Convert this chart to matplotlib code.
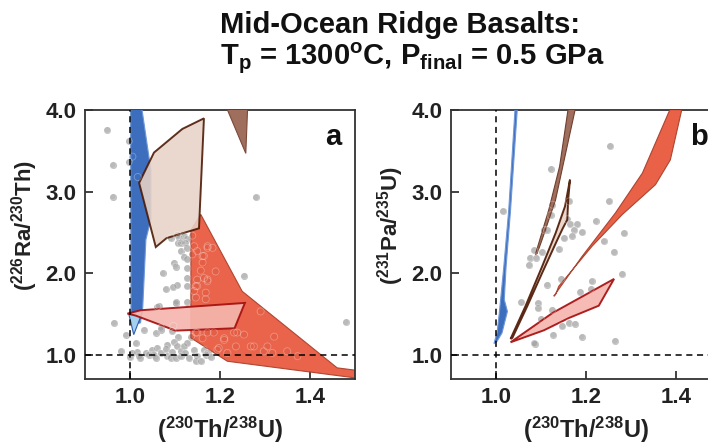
import matplotlib
matplotlib.use('Agg')
import matplotlib.pyplot as plt
from matplotlib.patches import Polygon

plt.rcParams['font.family'] = ['Liberation Sans', 'DejaVu Sans']
plt.rcParams['font.weight'] = 'bold'
plt.rcParams['mathtext.fontset'] = 'custom'
plt.rcParams['mathtext.rm'] = 'Liberation Sans:bold'
plt.rcParams['mathtext.bf'] = 'Liberation Sans:bold'
plt.rcParams['mathtext.it'] = 'Liberation Sans:bold'

# ---- panel a: (226Ra/230Th) vs (230Th/238U) ----
a_blue = [(1.002, 4.02), (1.027, 4.02), (1.047, 3.27), (1.047, 2.66), (1.036, 2.41),
          (1.029, 1.58), (1.024, 1.39), (1.011, 1.37), (1.003, 1.50)]
a_lightblue = [(0.998, 1.50), (1.029, 1.53), (1.009, 1.245)]
a_pink = [(0.995, 1.503), (1.024, 1.544), (1.256, 1.634), (1.233, 1.323),
          (1.102, 1.294), (1.013, 1.479)]
a_beige = [(1.021, 3.107), (1.054, 3.48), (1.117, 3.77), (1.165, 3.90),
           (1.154, 2.55), (1.082, 2.43), (1.058, 2.32)]
a_brown = [(1.216, 4.02), (1.262, 4.02), (1.258, 3.47)]
a_red = [(1.136, 2.525), (1.158, 2.72), (1.250, 1.777), (1.461, 0.837), (1.52, 0.795),
         (1.52, 0.70), (1.217, 0.918), (1.136, 1.205)]

a_points = [
    (0.950, 3.76), (0.998, 3.62), (0.998, 3.37), (0.962, 3.33), (0.962, 2.94),
    (1.280, 2.93), (1.254, 1.97), (1.480, 1.40), (0.965, 1.39), (0.991, 1.245),
    (0.980, 1.04), (1.018, 3.18), (1.006, 3.43), (1.073, 2.00), (1.061, 1.59),
    (1.032, 1.307), (1.069, 1.307), (1.058, 1.27), (1.069, 1.33),
    (1.091, 2.43), (1.110, 2.43), (1.117, 2.39), (1.128, 2.42), (1.107, 2.37),
    (1.124, 2.37), (1.113, 2.27), (1.128, 2.17), (1.121, 2.20), (1.098, 2.13),
    (1.102, 2.08), (1.128, 2.06), (1.128, 1.94), (1.106, 1.85), (1.097, 1.83),
    (1.128, 1.84), (1.080, 1.80), (1.104, 1.65), (1.128, 1.65), (1.106, 2.47),
    (1.121, 2.45), (1.113, 2.37), (1.127, 2.31), (1.102, 1.63), (1.065, 1.60),
    (1.139, 2.46), (1.143, 2.33), (1.139, 2.23), (1.150, 2.27), (1.162, 2.21),
    (1.173, 2.31), (1.184, 2.31), (1.162, 2.13), (1.158, 2.03), (1.165, 1.94),
    (1.150, 1.92), (1.173, 1.92), (1.191, 2.02), (1.143, 1.78), (1.147, 1.70),
    (1.169, 1.76), (1.169, 1.68), (1.150, 1.84), (1.291, 1.53), (1.173, 2.33),
    (1.165, 2.21), (1.173, 1.90), (1.147, 1.84),
    (1.147, 1.27), (1.187, 1.27), (1.210, 1.20), (1.239, 1.27), (1.254, 1.245),
    (1.321, 1.22), (1.276, 1.10), (1.306, 1.10), (1.350, 1.04), (1.373, 0.98),
    (1.236, 1.10), (1.198, 1.08), (1.217, 1.02), (1.173, 1.02),
    (1.136, 1.22), (1.150, 1.27), (1.173, 1.27), (1.162, 1.20), (1.195, 1.06),
    (1.210, 1.18), (1.232, 1.27), (1.269, 1.10), (1.298, 1.04), (1.317, 1.02),
    (1.013, 1.14), (1.001, 0.97), (1.021, 0.98), (1.017, 1.03), (1.036, 1.02),
    (1.050, 1.06), (1.054, 1.00), (1.069, 1.02), (1.080, 1.07), (1.084, 0.98),
    (1.095, 1.03), (1.102, 0.96), (1.106, 1.10), (1.098, 1.16), (1.107, 1.22),
    (1.113, 1.04), (1.124, 1.02), (1.132, 0.96), (1.143, 1.06), (1.150, 0.98),
    (1.158, 0.92), (1.169, 1.00), (1.180, 0.97), (1.165, 1.06), (1.128, 1.14),
    (1.121, 1.10), (1.095, 1.29), (1.097, 1.35), (1.084, 1.12), (1.061, 1.08),
    (1.043, 1.00), (1.024, 0.96), (1.006, 1.02), (1.058, 0.96), (1.113, 0.98),
    (1.147, 0.92), (1.091, 0.96),
]

# ---- panel b: (231Pa/235U) vs (230Th/238U) ----
b_blue = [(0.996, 1.135), (1.003, 1.266), (1.008, 1.51), (1.018, 2.08), (1.029, 2.78),
          (1.043, 4.02), (1.048, 4.02), (1.033, 2.78), (1.023, 2.08), (1.019, 1.675),
          (1.026, 1.53), (1.014, 1.266), (1.003, 1.163)]
b_brown = [(1.088, 2.227), (1.118, 2.78), (1.142, 3.31), (1.161, 4.02), (1.177, 4.02),
           (1.149, 3.31), (1.133, 2.90), (1.103, 2.41), (1.092, 2.24)]
b_beige = [(1.033, 1.193), (1.066, 1.593), (1.103, 2.08), (1.133, 2.49), (1.154, 2.82),
           (1.165, 3.147), (1.161, 2.90), (1.159, 2.656), (1.149, 2.55), (1.137, 2.41),
           (1.103, 2.00), (1.070, 1.593), (1.037, 1.205)]
b_red = [(1.129, 1.716), (1.192, 2.206), (1.266, 2.739), (1.326, 3.229), (1.388, 4.02),
         (1.414, 4.02), (1.388, 3.39), (1.355, 3.086), (1.281, 2.718), (1.214, 2.33),
         (1.140, 1.838), (1.133, 1.736)]
b_pink = [(1.033, 1.151), (1.126, 1.51), (1.263, 1.929), (1.229, 1.60),
          (1.163, 1.45), (1.107, 1.298)]

b_points = [
    (1.254, 3.56), (1.122, 3.28), (1.016, 2.76), (1.163, 2.88), (1.252, 2.88),
    (1.126, 2.84), (1.122, 2.71), (1.159, 2.66), (1.166, 2.60), (1.181, 2.60),
    (1.174, 2.53), (1.192, 2.50), (1.222, 2.64), (1.170, 2.46), (1.152, 2.43),
    (1.114, 2.53), (1.107, 2.53), (1.140, 2.29), (1.103, 2.26), (1.086, 2.28),
    (1.077, 2.19), (1.090, 2.19), (1.074, 2.10), (1.285, 2.49), (1.263, 2.26),
    (1.240, 2.39), (1.281, 1.99), (1.146, 1.93), (1.114, 1.86), (1.213, 1.90),
    (1.211, 1.81), (1.188, 1.77), (1.057, 1.64), (1.094, 1.63), (1.094, 1.57),
    (1.126, 1.55), (1.100, 1.44), (1.163, 1.39), (1.176, 1.38), (1.148, 1.35),
    (1.128, 1.245), (1.191, 1.22), (1.085, 1.14), (1.265, 1.17), (1.087, 1.135),
]

x_ticks = [1.0, 1.2, 1.4]
y_ticks = [1.0, 2.0, 3.0, 4.0]

fig = plt.figure(figsize=(7.08, 4.48), dpi=100)
ax1 = fig.add_axes([0.1196, 0.154, 0.3814, 0.600])
ax2 = fig.add_axes([0.6366, 0.154, 0.3814, 0.600])


def draw_points(ax, pts):
    xs = [p[0] for p in pts]
    ys = [p[1] for p in pts]
    ax.scatter(xs, ys, s=26, color='#a3a3a3', alpha=0.75, linewidths=0, zorder=1)
    ax.scatter(xs, ys, s=26, facecolors='none', edgecolors='white', alpha=0.3,
               linewidths=0.6, zorder=9)


def poly(ax, pts, fc, ec, lw=1.0, alpha=1.0, z=3):
    ax.add_patch(Polygon(pts, closed=True, facecolor=fc, edgecolor=ec,
                         linewidth=lw, alpha=alpha, zorder=z))


def style(ax, ylabel, letter):
    ax.set_xlim(0.9, 1.5)
    ax.set_ylim(0.7, 4.0)
    ax.set_xticks(x_ticks)
    ax.set_yticks(y_ticks)
    ax.set_xticklabels(['%.1f' % v for v in x_ticks])
    ax.set_yticklabels(['%.1f' % v for v in y_ticks])
    ax.tick_params(direction='in', length=6, width=1.2, labelsize=16, pad=6,
                   colors='#222222', top=False, right=False)
    for sp in ax.spines.values():
        sp.set_color('#333333')
        sp.set_linewidth(1.3)
    ax.axvline(1.0, color='black', ls=(0, (4, 3)), lw=1.1, zorder=10)
    ax.axhline(1.0, color='black', ls=(0, (4, 3)), lw=1.1, zorder=10)
    ax.set_xlabel(r'($^{\mathbf{230}}$Th/$^{\mathbf{238}}$U)', fontsize=17,
                  fontweight='bold', color='#222222', labelpad=5)
    ax.set_ylabel(ylabel, fontsize=16, fontweight='bold', color='#222222')
    ax.yaxis.set_label_coords(-0.165, 0.57)
    ax.text(0.92, 0.90, letter, transform=ax.transAxes, fontsize=21,
            fontweight='bold', ha='center', va='center', color='#111111', zorder=11)


# panel a
draw_points(ax1, a_points)
poly(ax1, a_red, '#e8583c', '#a8402c', lw=0.8, alpha=0.93, z=2)
poly(ax1, a_blue, '#3d6dbd', '#6f98d8', lw=0.8, z=3)
poly(ax1, a_lightblue, '#a4d0f0', '#2f5fb0', lw=0.8, z=4)
poly(ax1, a_brown, '#a06e5c', '#7a4a3a', lw=0.8, z=4)
poly(ax1, a_beige, '#e8d2c6', '#4a1500', lw=1.4, alpha=0.88, z=5)
poly(ax1, a_pink, '#f6b6ae', '#a50f0f', lw=1.4, alpha=0.92, z=6)
style(ax1, r'($^{\mathbf{226}}$Ra/$^{\mathbf{230}}$Th)', 'a')

# panel b
draw_points(ax2, b_points)
poly(ax2, b_blue, '#3d6dbd', '#6f98d8', lw=0.8, z=3)
poly(ax2, b_brown, '#a06e5c', '#6e4030', lw=0.8, z=3)
poly(ax2, b_red, '#e8583c', '#a8402c', lw=0.8, alpha=0.95, z=3)
poly(ax2, b_beige, '#e8d2c6', '#4a1500', lw=1.4, alpha=0.9, z=5)
poly(ax2, b_pink, '#f6b6ae', '#a50f0f', lw=1.4, alpha=0.92, z=6)
style(ax2, r'($^{\mathbf{231}}$Pa/$^{\mathbf{235}}$U)', 'b')

fig.text(220 / 708, 1 - 33 / 448, 'Mid-Ocean Ridge Basalts:', fontsize=21,
         fontweight='bold', ha='left', va='baseline', color='#111111')
fig.text(220 / 708, 1 - 65 / 448,
         r'T$_{\mathbf{p}}$ = 1300$^{\mathbf{o}}$C, P$_{\mathbf{final}}$ = 0.5 GPa',
         fontsize=21, fontweight='bold', ha='left', va='baseline', color='#111111')

fig.savefig('out.png', dpi=100)
